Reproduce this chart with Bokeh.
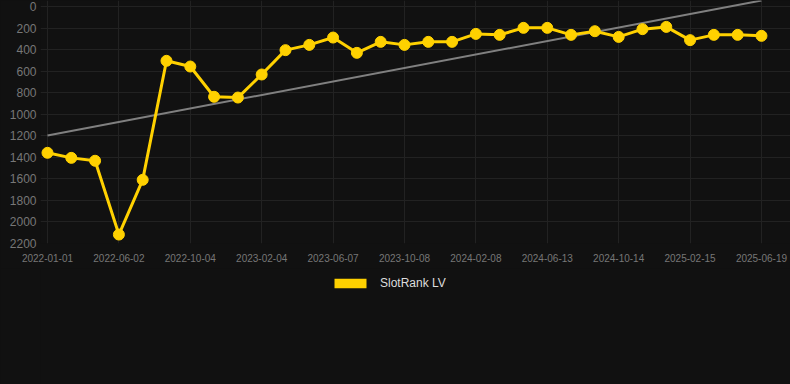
from bokeh.plotting import figure
from bokeh.layouts import column
from bokeh.models import ColumnDataSource, Range1d, FixedTicker, Legend, LegendItem
from bokeh.embed import file_html
from bokeh.resources import INLINE

# ---- data ----
tick_labels = ["2022-01-01", "2022-06-02", "2022-10-04", "2023-02-04", "2023-06-07",
               "2023-10-08", "2024-02-08", "2024-06-13", "2024-10-14", "2025-02-15",
               "2025-06-19"]
rank_values = [1358, 1405, 1432, 2117, 1609, 504, 557, 838, 845, 631,
               405, 356, 288, 430, 328, 356, 328, 328, 254, 263,
               198, 198, 263, 229, 282, 210, 189, 312, 263, 263, 272]
trend_values = [1197, -56]
series_name = "SlotRank LV"
y_ticks = list(range(0, 2201, 200))

n = len(rank_values)
idx = list(range(n))
tick_idx = list(range(0, n, 3))

BG = "#111111"
GOLD = "#FFD100"

p = figure(frame_width=750, frame_height=243, output_backend="svg", toolbar_location=None,
           x_range=Range1d(-0.294, n - 1 + 1.22), y_range=Range1d(2200, -56),
           background_fill_color=BG, border_fill_color=BG,
           min_border_left=40, min_border_right=0, min_border_top=0, min_border_bottom=25)
p.outline_line_color = None

# grid
p.xgrid.ticker = FixedTicker(ticks=tick_idx)
p.ygrid.ticker = FixedTicker(ticks=y_ticks)
p.xgrid.grid_line_color = "#222222"
p.ygrid.grid_line_color = "#222222"

# axes
p.xaxis.ticker = FixedTicker(ticks=tick_idx)
p.xaxis.major_label_overrides = {i: lab for i, lab in zip(tick_idx, tick_labels)}
p.yaxis.ticker = FixedTicker(ticks=y_ticks)
for ax in (p.xaxis[0], p.yaxis[0]):
    ax.axis_line_color = None
    ax.major_tick_line_color = None
    ax.minor_tick_line_color = None
    ax.major_tick_out = 0
    ax.major_tick_in = 0
    ax.major_label_text_color = "#777777"
    ax.major_label_text_font = "Liberation Sans"
p.xaxis.major_label_text_font_size = "10px"
p.yaxis.major_label_text_font_size = "12px"
p.xaxis.major_label_standoff = 10
p.yaxis.major_label_standoff = 4

# trend line
p.line([0, n - 1], trend_values, line_color="#808080", line_width=2)

# main series
src = ColumnDataSource(dict(x=idx, y=rank_values))
p.line("x", "y", source=src, line_color=GOLD, line_width=3)
p.scatter("x", "y", source=src, size=11, fill_color=GOLD, line_color=GOLD)

# legend strip below the chart
leg = figure(width=790, height=116, output_backend="svg", toolbar_location=None,
             x_range=Range1d(0, 1), y_range=Range1d(0, 1),
             x_axis_type=None, y_axis_type=None,
             background_fill_color=BG, border_fill_color=BG,
             min_border_left=0, min_border_right=0, min_border_top=0, min_border_bottom=0)
leg.outline_line_color = None
swatch = leg.quad(left=0, right=0, top=0, bottom=0, fill_color=GOLD, line_color=None)
legend = Legend(items=[LegendItem(label=series_name, renderers=[swatch])],
                orientation="horizontal", location=(290, 94),
                background_fill_alpha=0, border_line_color=None,
                label_text_color="#dddddd", label_text_font="Liberation Sans",
                label_text_font_size="12px", glyph_width=40, glyph_height=12,
                label_height=12, label_standoff=10, margin=0, padding=0, spacing=0)
leg.add_layout(legend, "center")

layout = column(p, leg, spacing=0)

html = file_html(layout, INLINE)
html = html.replace("</head>", "<style>html,body{background-color:#111111;}</style></head>", 1)
open("out.html", "w").write(html)
